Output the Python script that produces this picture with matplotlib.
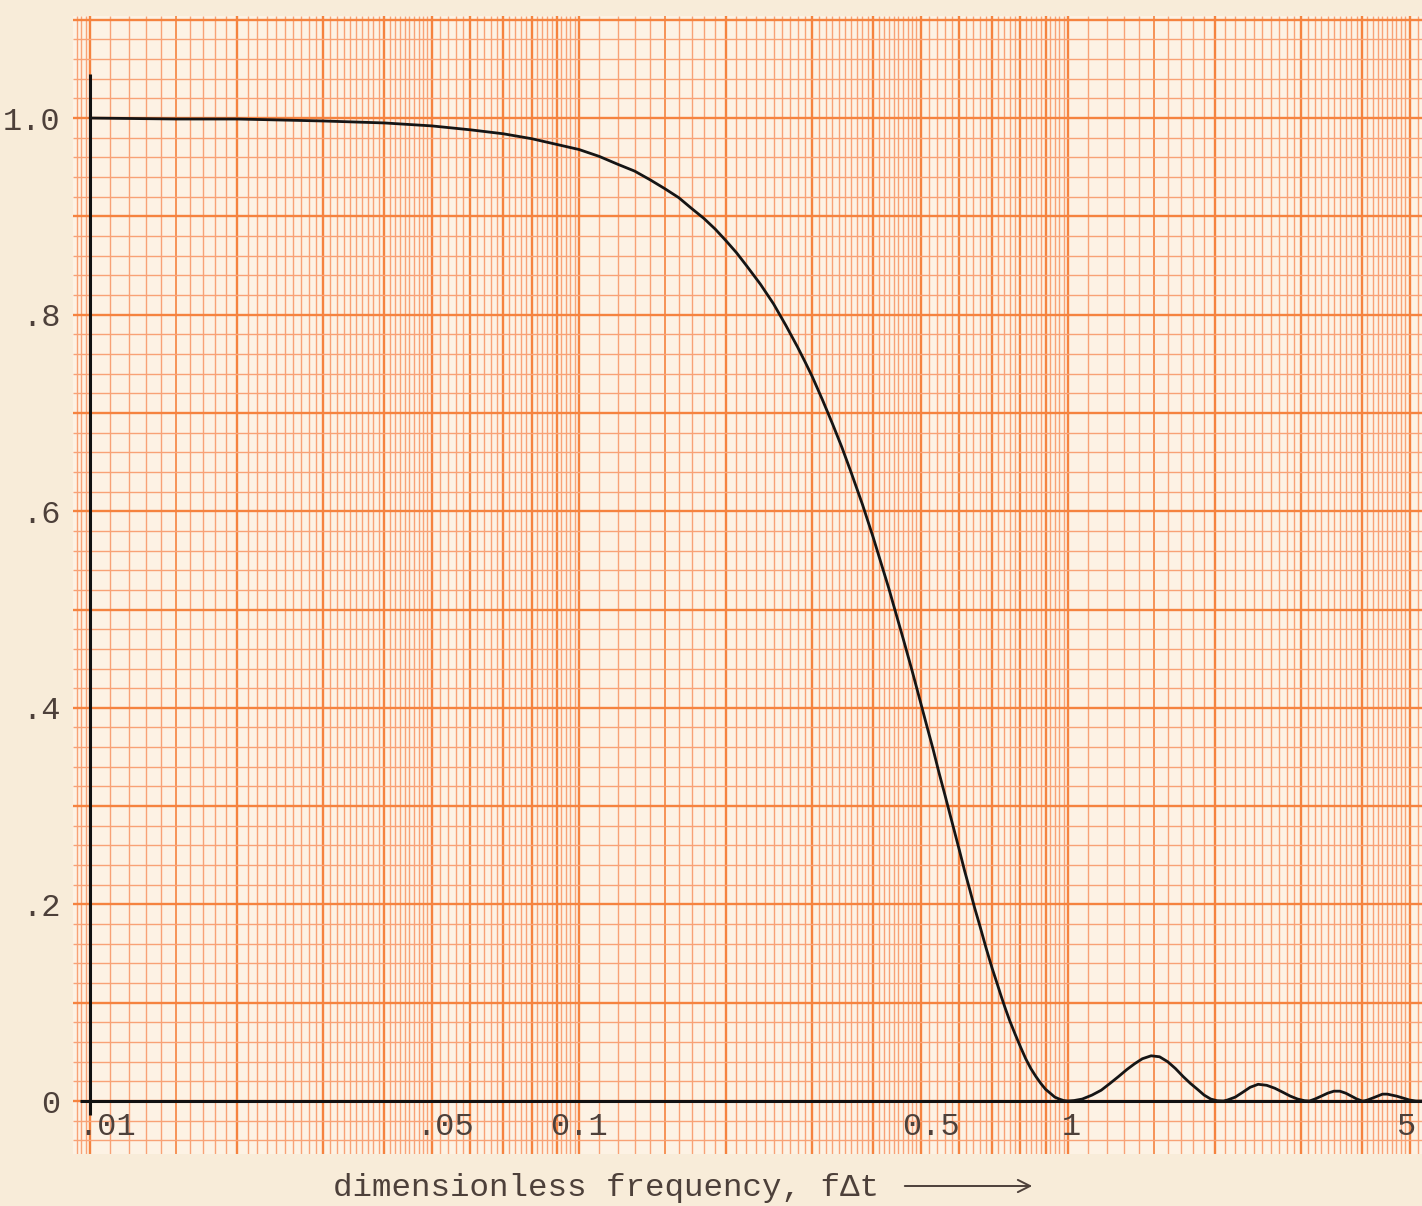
import numpy as np
import matplotlib
matplotlib.use('Agg')
import matplotlib.pyplot as plt

# curve (dimensionless frequency vs response)
freq = [0.01, 0.015, 0.02, 0.03, 0.04, 0.05, 0.06, 0.07, 0.08, 0.1,
        0.11, 0.12, 0.13, 0.14, 0.15, 0.16, 0.17, 0.18, 0.19, 0.2,
        0.21, 0.22, 0.235, 0.25, 0.265, 0.28, 0.29, 0.3, 0.315, 0.33,
        0.345, 0.36, 0.38, 0.4, 0.415, 0.43, 0.445, 0.46, 0.48, 0.5,
        0.515, 0.53, 0.545, 0.56, 0.58, 0.6, 0.615, 0.63, 0.645, 0.66,
        0.68, 0.7, 0.715, 0.73, 0.745, 0.76, 0.78, 0.8, 0.82, 0.84,
        0.86, 0.88, 0.9, 0.92, 0.94, 0.96, 0.98, 1.0,
        1.03, 1.07, 1.12, 1.17, 1.22, 1.27, 1.32, 1.37, 1.42, 1.48,
        1.54, 1.6, 1.66, 1.72, 1.78, 1.84, 1.9, 1.96, 2.02, 2.08,
        2.12, 2.2, 2.28, 2.36, 2.45, 2.55, 2.65, 2.75, 2.85, 2.95,
        3.05, 3.12, 3.2, 3.3, 3.4, 3.5, 3.6, 3.7, 3.8, 3.9,
        4.0, 4.05, 4.1, 4.2, 4.3, 4.4, 4.5, 4.6, 4.7, 4.85,
        5.0, 5.15, 5.3]
amp = [1.0, 0.999, 0.999, 0.997, 0.995, 0.992, 0.988, 0.984, 0.979, 0.968,
       0.961, 0.953, 0.946, 0.937, 0.928, 0.919, 0.908, 0.898, 0.887, 0.875,
       0.863, 0.850, 0.831, 0.811, 0.789, 0.767, 0.752, 0.737, 0.713, 0.689,
       0.665, 0.640, 0.607, 0.573, 0.547, 0.522, 0.496, 0.471, 0.438, 0.405,
       0.381, 0.358, 0.334, 0.312, 0.283, 0.255, 0.234, 0.215, 0.196, 0.179,
       0.156, 0.135, 0.121, 0.107, 0.094, 0.082, 0.068, 0.055, 0.043, 0.033,
       0.025, 0.018, 0.012, 0.008, 0.004, 0.002, 0.0005, 0.0,
       0.0005, 0.002, 0.006, 0.011, 0.018, 0.025, 0.032, 0.038, 0.043, 0.046,
       0.045, 0.040, 0.033, 0.025, 0.018, 0.012, 0.006, 0.002, 0.0003, 0.0,
       0.001, 0.004, 0.009, 0.014, 0.017, 0.016, 0.013, 0.009, 0.005, 0.002,
       0.0003, 0.0, 0.002, 0.005, 0.008, 0.010, 0.010, 0.008, 0.005, 0.002,
       0.0, 0.0003, 0.001, 0.003, 0.005, 0.007, 0.007, 0.006, 0.005, 0.003,
       0.001, 0.0, 0.0]

ytick_vals = [0, 0.2, 0.4, 0.6, 0.8, 1.0]
ytick_text = ['0', '.2', '.4', '.6', '.8', '1.0']
xtick_vals = [0.01, 0.05, 0.1, 0.5, 1, 5]
xtick_text = ['.01', '.05', '0.1', '0.5', '1', '5']
xtick_shift = [17, 13, 0, 10, 3, -3]   # pixels, typed labels sit a bit off the lines

W, H = 1422, 1206
paper = '#f8ecd9'
ink = '#4d403a'
light = '#f8a276'
heavy = '#f5833f'
font = ['Liberation Mono', 'DejaVu Sans Mono']

fig = plt.figure(figsize=(W / 100, H / 100), dpi=100, facecolor=paper)
ax = fig.add_axes([73 / W, 52 / H, (W - 73) / W, (1154 - 16) / H])
ax.set_facecolor('#fdf2e4')
ax.set_xscale('log')
ax.set_xlim(0.00923, 5.30)
ax.set_ylim(-0.0539, 1.1038)
for s in ax.spines.values():
    s.set_visible(False)

# --- semi-log graph paper ---
mant_fine = np.r_[np.arange(10, 50) / 10, np.arange(25, 50) / 5]
xl, xr = ax.get_xlim()
vx_light, vx_heavy, vx_mid = [], [], []
for dec in [0.001, 0.01, 0.1, 1.0]:
    for m in mant_fine:
        x = m * dec
        if not (xl <= x <= xr):
            continue
        if abs(m - round(m)) < 1e-9:
            vx_heavy.append(x)
        elif abs(m - 1.5) < 1e-9:
            vx_mid.append(x)
        else:
            vx_light.append(x)
xt = ax.get_xaxis_transform()
ax.vlines(vx_light, 0, 1, transform=xt, color=light, lw=1.0, zorder=0)
ax.vlines(vx_mid, 0, 1, transform=xt, color=heavy, lw=1.2, zorder=0)
ax.vlines(vx_heavy, 0, 1, transform=xt, color=heavy, lw=1.7, zorder=0)

idx = np.arange(-2, 56)
hy = idx * 0.02
yt = ax.get_yaxis_transform()
ax.hlines(hy[idx % 5 != 0], 0, 1, transform=yt, color=light, lw=1.0, zorder=0)
ax.hlines(hy[idx % 5 == 0], 0, 1, transform=yt, color=heavy, lw=1.7, zorder=0)

# --- hand drawn axes and curve ---
ax.vlines(xtick_vals[0], -0.014, 1.045, color='#111111', lw=2.2, zorder=3)
ax.hlines(0, 0.00954, 5.30, color='#111111', lw=2.2, zorder=3)
ax.plot(freq, amp, color='#151515', lw=2.0, solid_joinstyle='round',
        solid_capstyle='round', zorder=4)

# y labels, typed to the left of the paper
ax.set_xticks([])
ax.set_xticks([], minor=True)
ax.set_yticks(ytick_vals)
ax.set_yticklabels(ytick_text, fontsize=23, color=ink, family=font)
ax.tick_params(axis='y', length=0, pad=9)

# x labels typed on the paper just under the axis
for v, t, dx in zip(xtick_vals, xtick_text, xtick_shift):
    ax.annotate(t, xy=(v, -0.026), xytext=(dx * 0.72, 0),
                textcoords='offset points', ha='center', va='center',
                fontsize=23, color=ink, family=font, zorder=5)

fig.text(333 / W, (H - 1188) / H, 'dimensionless frequency, f\u0394t',
         ha='left', va='center', fontsize=23.4, color=ink, family=font)
ax.annotate('', xy=(1035, H - 1186), xytext=(902, H - 1186),
            xycoords='figure pixels', textcoords='figure pixels',
            arrowprops=dict(arrowstyle='->', color=ink, lw=1.4,
                            mutation_scale=22))

fig.savefig('out.png', dpi=100, facecolor=paper)
